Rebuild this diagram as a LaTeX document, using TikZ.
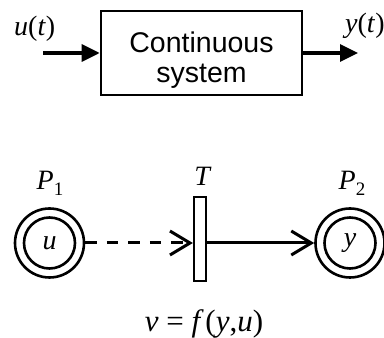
\documentclass[tikz,border=0pt]{standalone}
\usepackage{fontspec}
\setmainfont{Liberation Serif}
\newfontfamily\sansf{Liberation Sans}
\usetikzlibrary{arrows.meta}
\tikzset{
  sysbox/.style={draw, line width=2.6pt, minimum width=201pt, minimum height=84pt, inner sep=0pt},
  sigarrow/.style={line width=3.4pt, -{Triangle[length=18pt,width=17pt]}},
  ring/.style={circle, draw, line width=2.6pt, inner sep=0pt},
  bar/.style={draw, line width=2.2pt, minimum width=12pt, minimum height=84pt, inner sep=0pt},
  arc/.style={line width=3pt, -{Straight Barb[length=20pt,width=24pt,line width=3pt]}},
  lbl/.style={inner sep=0pt, anchor=base},
}
\begin{document}
\begin{tikzpicture}[x=1pt,y=1pt]
\useasboundingbox (0,0) rectangle (384,338);
% top block diagram
\node[sysbox] (sys) at (201.5,285) {};
\node[font=\sansf\fontsize{28.5}{30}\selectfont, anchor=base, inner sep=0pt] (l1) at (201.5,285.5) {Continuous};
\node[font=\sansf\fontsize{28.5}{30}\selectfont, anchor=base, inner sep=0pt] (l2) at (201.5,255) {system};
\coordinate (in) at (43,285);
\coordinate (out) at (358,285);
\draw[sigarrow] (in) -- (sys.west);
\draw[sigarrow] (sys.east) -- (out);
\node[lbl, anchor=base west, font=\fontsize{28}{30}\selectfont] (ut) at (14,302) {\textit{u}(\textit{t})};
\node[lbl, anchor=base west, font=\fontsize{28}{30}\selectfont] (yt) at (345,305) {\textit{y}(\textit{t})};
% Petri net
\node[ring, minimum size=69pt] (P1) at (49.5,95) {};
\node[ring, minimum size=51pt, font=\fontsize{28}{30}\selectfont] (P1i) at (49.5,95) {\textit{u}};
\node[ring, minimum size=69pt] (P2) at (350,95) {};
\node[ring, minimum size=51pt, font=\fontsize{28}{30}\selectfont] (P2i) at (350,95) {\textit{y}};
\node[bar] (T) at (200,99) {};
\draw[arc, dash pattern=on 11.5pt off 10pt] (P1.east) -- (P1.east -| T.west);
\draw[arc] (P2.west -| T.east) -- (P2.west);
\node[lbl, font=\fontsize{28}{30}\selectfont] (P1l) at (50,148) {\textit{P}\raisebox{-6pt}{\fontsize{19}{20}\selectfont 1}};
\node[lbl, font=\fontsize{28}{30}\selectfont] (P2l) at (352,148) {\textit{P}\raisebox{-6pt}{\fontsize{19}{20}\selectfont 2}};
\node[lbl, font=\fontsize{28}{30}\selectfont] (Tl) at (203,152) {\textit{T}};
\node[lbl, font=\fontsize{31}{34}\selectfont] (fl) at (204,6) {\textit{v} = \textit{f\,}(\textit{y},\textit{u})};
\end{tikzpicture}
\end{document}
